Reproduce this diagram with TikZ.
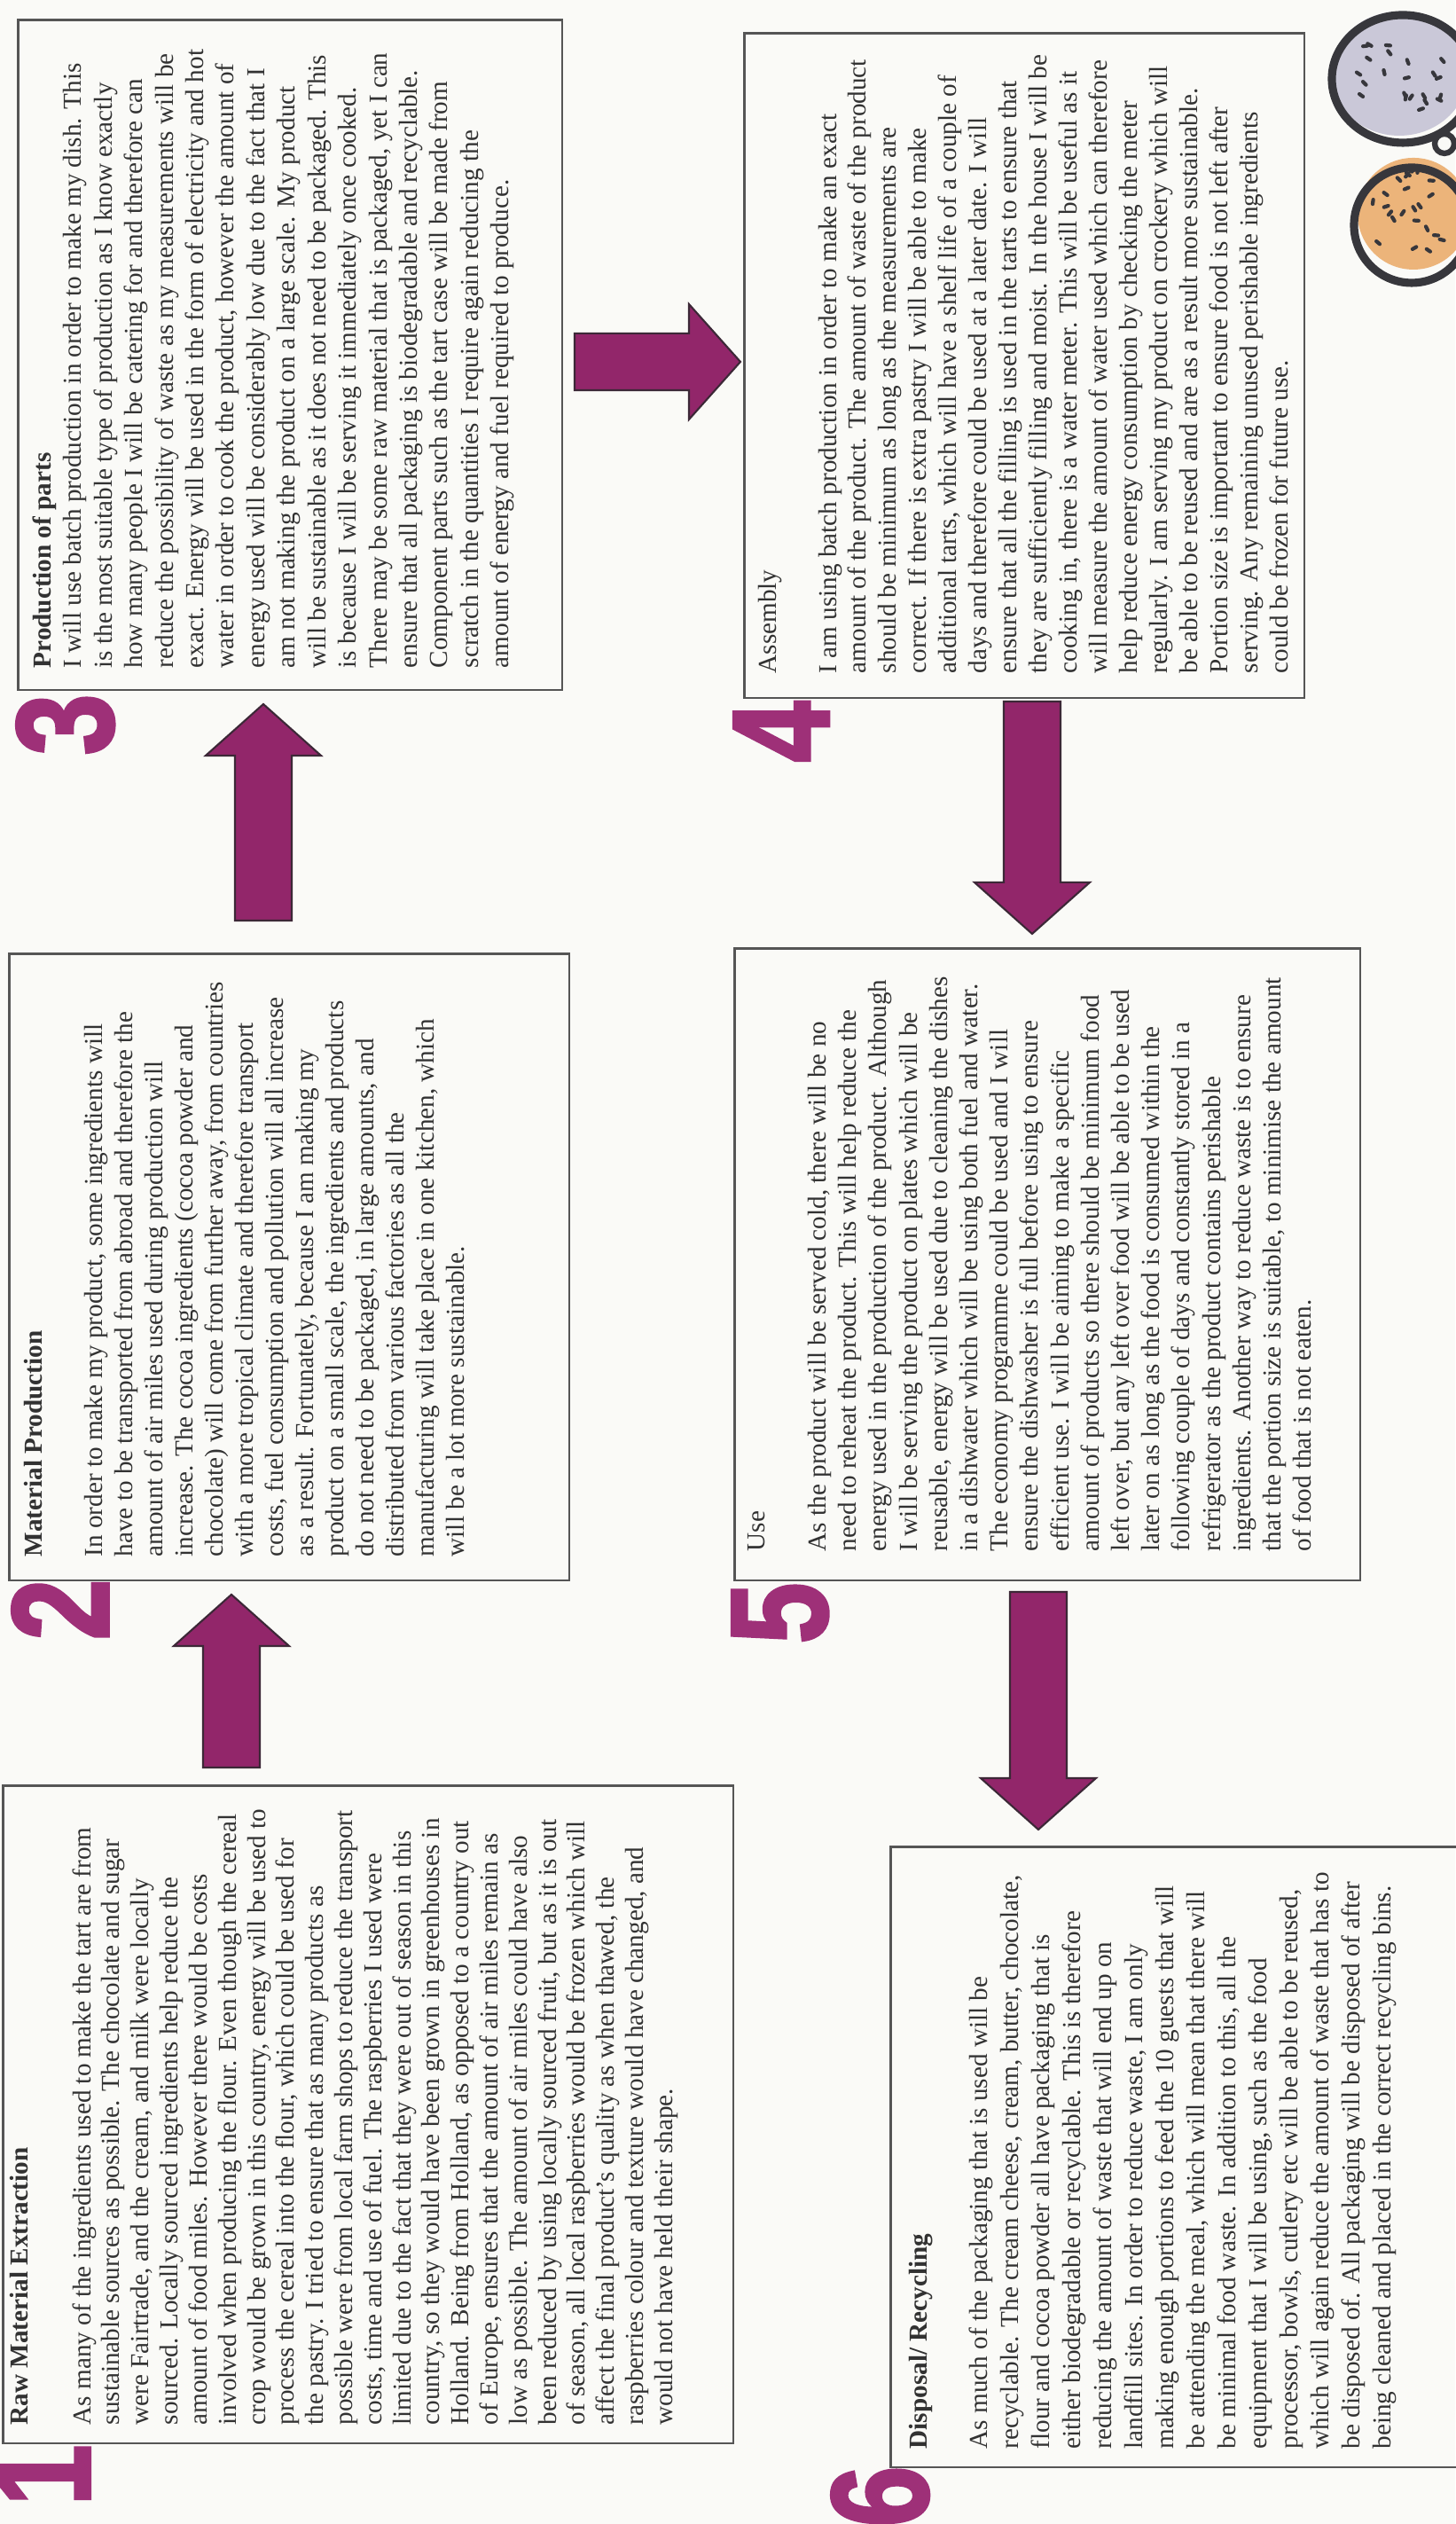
\documentclass[tikz,border=0pt]{standalone}
\usepackage{fontspec}
\setmainfont{Liberation Serif}
\newfontfamily\numfont[FakeBold=2.5]{Liberation Sans Bold}
\usetikzlibrary{positioning,calc}

\definecolor{paper}{RGB}{250,250,247}
\definecolor{ink}{RGB}{50,50,50}
\definecolor{frame}{RGB}{85,85,85}
\definecolor{plum}{RGB}{146,38,106}
\definecolor{plumline}{RGB}{60,40,55}
\definecolor{numcol}{RGB}{158,48,120}
\definecolor{lilac}{RGB}{202,200,216}
\definecolor{apricot}{RGB}{236,180,122}
\definecolor{rimcol}{RGB}{55,55,60}

% fat block arrow from #1 (tail) to #2 (tip)
\newcommand{\flowarrow}[2]{%
  \draw[flow] ($(#1)!0.32cm!90:(#2)$)
    -- ($(#2)!0.58cm!(#1)!0.32cm!90:(#2)$)
    -- ($(#2)!0.58cm!(#1)!0.65cm!90:(#2)$)
    -- (#2)
    -- ($(#2)!0.58cm!(#1)!0.65cm!-90:(#2)$)
    -- ($(#2)!0.58cm!(#1)!0.32cm!-90:(#2)$)
    -- ($(#1)!0.32cm!-90:(#2)$) -- cycle;}

\begin{document}
\begin{tikzpicture}[
    x=0.01cm, y=0.01cm, rotate=90, transform shape,
    panel/.style={draw=frame, line width=0.7pt, inner sep=0pt, anchor=south west},
    blurb/.style={font=\fontsize{8.3}{#1}\selectfont, text=ink, align=left, inner sep=0pt},
    numeral/.style={font=\numfont\fontsize{44}{44}\selectfont, text=numcol,
      inner sep=0pt, xscale=0.8, anchor=north east},
    flow/.style={fill=plum, draw=plumline, line width=0.6pt, line join=miter},
    rim/.style={draw=rimcol, line width=2.6pt},
    pip/.style={draw=rimcol, line width=1.2pt, line cap=round}
  ]
  \useasboundingbox (0,0) rectangle (2846,1641);
  \fill[paper] (0,0) rectangle (2846,1641);

  % the six stages
  \node[panel, minimum width=7.41cm, minimum height=8.23cm] (raw) at (90,813) {};
  \node[panel, minimum width=7.06cm, minimum height=6.31cm] (matprod) at (1063,998) {};
  \node[panel, minimum width=7.55cm, minimum height=6.13cm] (parts) at (2067,1006) {};
  \node[panel, minimum width=7.49cm, minimum height=6.31cm] (assembly) at (2058,169) {};
  \node[panel, minimum width=7.12cm, minimum height=7.05cm] (use) at (1063,106) {};
  \node[panel, minimum width=6.99cm, minimum height=6.55cm] (disposal) at (63,-20) {};

  \node[blurb=9.33, below right=0.08cm and 0.21cm of raw.north west] (rawtxt) {%
    \textbf{Raw Material Extraction}\\[10.9pt]
    As many of the ingredients used to make the tart are from\\
    sustainable sources as possible. The chocolate and sugar\\
    were Fairtrade, and the cream, and milk were locally\\
    sourced. Locally sourced ingredients help reduce the\\
    amount of food miles. However there would be costs\\
    involved when producing the flour. Even though the cereal\\
    crop would be grown in this country, energy will be used to\\
    process the cereal into the flour, which could be used for\\
    the pastry. I tried to ensure that as many products as\\
    possible were from local farm shops to reduce the transport\\
    costs, time and use of fuel. The raspberries I used were\\
    limited due to the fact that they were out of season in this\\
    country, so they would have been grown in greenhouses in\\
    Holland. Being from Holland, as opposed to a country out\\
    of Europe, ensures that the amount of air miles remain as\\
    low as possible. The amount of air miles could have also\\
    been reduced by using locally sourced fruit, but as it is out\\
    of season, all local raspberries would be frozen which will\\
    affect the final product's quality as when thawed, the\\
    raspberries colour and texture would have changed, and\\
    would not have held their shape.};

  \node[blurb=9.67, below right=0.17cm and 0.27cm of matprod.north west] (matprodtxt) {%
    \textbf{Material Production}\\[9.67pt]
    In order to make my product, some ingredients will\\
    have to be transported from abroad and therefore the\\
    amount of air miles used during production will\\
    increase. The cocoa ingredients (cocoa powder and\\
    chocolate) will come from further away, from countries\\
    with a more tropical climate and therefore transport\\
    costs, fuel consumption and pollution will all increase\\
    as a result. Fortunately, because I am making my\\
    product on a small scale, the ingredients and products\\
    do not need to be packaged, in large amounts, and\\
    distributed from various factories as all the\\
    manufacturing will take place in one kitchen, which\\
    will be a lot more sustainable.};

  \node[blurb=9.79, below right=0.17cm and 0.25cm of parts.north west] (partstxt) {%
    \textbf{Production of parts}\\
    I will use batch production in order to make my dish. This\\
    is the most suitable type of production as I know exactly\\
    how many people I will be catering for and therefore can\\
    reduce the possibility of waste as my measurements will be\\
    exact. Energy will be used in the form of electricity and hot\\
    water in order to cook the product, however the amount of\\
    energy used will be considerably low due to the fact that I\\
    am not making the product on a large scale. My product\\
    will be sustainable as it does not need to be packaged. This\\
    is because I will be serving it immediately once cooked.\\
    There may be some raw material that is packaged, yet I can\\
    ensure that all packaging is biodegradable and recyclable.\\
    Component parts such as the tart case will be made from\\
    scratch in the quantities I require again reducing the\\
    amount of energy and fuel required to produce.};

  \node[blurb=9.65, below right=0.16cm and 0.28cm of assembly.north west] (assemblytxt) {%
    Assembly\\[9.65pt]
    I am using batch production in order to make an exact\\
    amount of the product. The amount of waste of the product\\
    should be minimum as long as the measurements are\\
    correct. If there is extra pastry I will be able to make\\
    additional tarts, which will have a shelf life of a couple of\\
    days and therefore could be used at a later date. I will\\
    ensure that all the filling is used in the tarts to ensure that\\
    they are sufficiently filling and moist. In the house I will be\\
    cooking in, there is a water meter. This will be useful as it\\
    will measure the amount of water used which can therefore\\
    help reduce energy consumption by checking the meter\\
    regularly. I am serving my product on crockery which will\\
    be able to be reused and are as a result more sustainable.\\
    Portion size is important to ensure food is not left after\\
    serving. Any remaining unused perishable ingredients\\
    could be frozen for future use.};

  \node[blurb=9.73, below right=0.16cm and 0.33cm of use.north west] (usetxt) {%
    Use\\[9.73pt]
    As the product will be served cold, there will be no\\
    need to reheat the product. This will help reduce the\\
    energy used in the production of the product. Although\\
    I will be serving the product on plates which will be\\
    reusable, energy will be used due to cleaning the dishes\\
    in a dishwater which will be using both fuel and water.\\
    The economy programme could be used and I will\\
    ensure the dishwasher is full before using to ensure\\
    efficient use. I will be aiming to make a specific\\
    amount of products so there should be minimum food\\
    left over, but any left over food will be able to be used\\
    later on as long as the food is consumed within the\\
    following couple of days and constantly stored in a\\
    refrigerator as the product contains perishable\\
    ingredients. Another way to reduce waste is to ensure\\
    that the portion size is suitable, to minimise the amount\\
    of food that is not eaten.};

  \node[blurb=9.96, below right=0.21cm and 0.21cm of disposal.north west] (disposaltxt) {%
    \textbf{Disposal/ Recycling}\\[9.4pt]
    As much of the packaging that is used will be\\
    recyclable. The cream cheese, cream, butter, chocolate,\\
    flour and cocoa powder all have packaging that is\\
    either biodegradable or recyclable. This is therefore\\
    reducing the amount of waste that will end up on\\
    landfill sites. In order to reduce waste, I am only\\
    making enough portions to feed the 10 guests that will\\
    be attending the meal, which will mean that there will\\
    be minimal food waste. In addition to this, all the\\
    equipment that I will be using, such as the food\\
    processor, bowls, cutlery etc will be able to be reused,\\
    which will again reduce the amount of waste that has to\\
    be disposed of. All packaging will be disposed of after\\
    being cleaned and placed in the correct recycling bins.};

  % stage numbers
  \node[numeral] (n1) at ($(raw.north west)+(0,8)$) {1};
  \node[numeral] (n2) at ($(matprod.north west)+(3,-4)$) {2};
  \node[numeral] (n3) at ($(parts.north west)+(-3,1)$) {3};
  \node[numeral] (n4) at ($(assembly.north west)+(-2,11)$) {4};
  \node[numeral] (n5) at ($(use.north west)+(-1,2)$) {5};
  \node[numeral] (n6) at ($(disposal.north west)+(3,66)$) {6};

  % arrows between stages
  \coordinate (a12s) at (853,1380);  \coordinate (a12e) at (1048,1380);
  \coordinate (a23s) at (1808,1344); \coordinate (a23e) at (2052,1344);
  \coordinate (a34s) at (2438,993);  \coordinate (a34e) at (2438,806);
  \coordinate (a45s) at (2055,477);  \coordinate (a45e) at (1793,477);
  \coordinate (a56s) at (1051,470);  \coordinate (a56e) at (783,470);
  \flowarrow{a12s}{a12e}
  \flowarrow{a23s}{a23e}
  \flowarrow{a34s}{a34e}
  \flowarrow{a45s}{a45e}
  \flowarrow{a56s}{a56e}

  % fruit halves in the corner
  \coordinate (lilachalf) at (2763,63);
  \coordinate (apricothalf) at (2605,47);
  \fill[lilac] (lilachalf) ellipse [x radius=70, y radius=77];
  \draw[rim] (2757,59) ellipse [x radius=72, y radius=80];
  \draw[rim, line width=1.8pt] (2684,12) circle [radius=11];
  \fill[apricot] (apricothalf) circle [radius=63];
  \draw[rim] (2592,49) circle [radius=65];
  \pgfmathsetseed{11}
  \foreach \k in {1,...,22}{
    \pgfmathsetmacro{\pa}{360*rnd}
    \pgfmathsetmacro{\pr}{58*sqrt(rnd)}
    \pgfmathsetmacro{\pt}{180*rnd}
    \draw[pip] ($(lilachalf)+(\pa:\pr)$) -- ++(\pt:5);
  }
  \foreach \k in {1,...,24}{
    \pgfmathsetmacro{\pa}{360*rnd}
    \pgfmathsetmacro{\pr}{52*sqrt(rnd)}
    \pgfmathsetmacro{\pt}{180*rnd}
    \draw[pip] ($(apricothalf)+(\pa:\pr)$) -- ++(\pt:5);
  }
\end{tikzpicture}
\end{document}
